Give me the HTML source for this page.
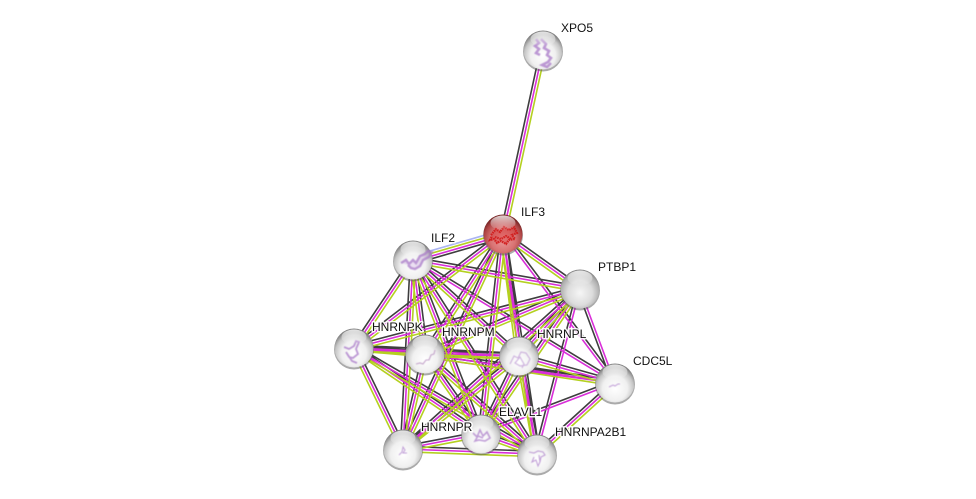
<!DOCTYPE html>
<html>
<head>
<meta charset="utf-8">
<style>
html,body{margin:0;padding:0;background:#fff;width:976px;height:499px;overflow:hidden}
svg{display:block}
text{font-family:"Liberation Sans",sans-serif;font-size:12px;fill:#111;paint-order:stroke;stroke:rgba(255,255,255,.9);stroke-width:3px;stroke-linejoin:round}
</style>
</head>
<body>
<svg width="976" height="499" viewBox="0 0 976 499" xmlns="http://www.w3.org/2000/svg">
<defs>
<radialGradient id="g" cx="50%" cy="64%" r="58%">
<stop offset="0" stop-color="#fff"/><stop offset=".55" stop-color="#f0f0f0"/><stop offset=".82" stop-color="#c6c6c6"/><stop offset="1" stop-color="#858585"/>
</radialGradient>
<radialGradient id="gp" cx="50%" cy="60%" r="58%">
<stop offset="0" stop-color="#f6f6f6"/><stop offset=".55" stop-color="#dcdcdc"/><stop offset=".85" stop-color="#b0b0b0"/><stop offset="1" stop-color="#858585"/>
</radialGradient>
<radialGradient id="r" cx="50%" cy="64%" r="58%">
<stop offset="0" stop-color="#ec9c9c"/><stop offset=".55" stop-color="#d87272"/><stop offset=".85" stop-color="#ae4444"/><stop offset="1" stop-color="#7a2828"/>
</radialGradient>
<linearGradient id="h" x1="0" y1="0" x2="0" y2="1">
<stop offset="0" stop-color="#fff" stop-opacity=".8"/><stop offset="1" stop-color="#fff" stop-opacity="0"/>
</linearGradient>
<filter id="b" x="-20%" y="-20%" width="140%" height="140%"><feGaussianBlur stdDeviation=".45"/></filter>
</defs>

<g fill="none" stroke-width="1.6">
<path stroke="#aab4f2" d="M411.9 256.2l90-26M403 446.5l78-15M581 291l-61 67"/>
<path stroke="#3e3e3e" d="M500.4 233.4l40-184M414.1 263.8l90-26M504.6 231.8l77 55M352.4 345.9l149-114M422.7 352.5l78-120M505.7 233.65l16 122M505.2 232.4l112 149M400.6 447.9l100-215M478.3 433.7l22-200M505.7 233.6l34 220M413.5 257.3l167 29M351.8 346.5l59-88M415.7 259.7l12 94M414.8 258l106 96M414.4 257.7l202 123M400.3 448.9l10-189M415.5 259l68 174M415.3 258.6l124 194M353.3 345.4l226-59M424 351.5l155-65M517 354.2l61-67M577.5 290l35 94M401.2 447l177-160M478.8 432.5l99-145M534.4 453.3l43-165M354.2 345.3l71 6M354.1 345.3l165 8M354.4 345.3l261 35M356.4 346.8l49 101M355.5 345.8l127 86M355.4 345.7l183 106M425.1 351.3l94 2M425.4 351.3l190 29M400.4 448.4l22-95M427.2 352.5l56 80M426.8 352l112 100M519.7 353.4l96 27M401.3 446.9l116-93M478.6 432.8l38-78M521.7 355.5l18 98M480 431.5l134-51M535.2 452l78-71M402.5 446.4l78-15M403.1 446.3l134 5M481.9 431.5l56 20"/>
<path stroke="#d92ed9" d="M503 234l40-184M413.4 261.3l90-26M503 234l77 55M354 348l149-114M425 354l78-120M503 234l16 122M503 234l112 149M403 449l100-215M481 434l22-200M503 234l34 220M413 260l167 29M354 348l59-88M413 260l12 94M413 260l106 96M413 260l202 123M403 449l10-189M413 260l68 174M413 260l124 194M354 348l226-59M425 354l155-65M519 356l61-67M580 289l35 94M403 449l177-160M481 434l99-145M537 454l43-165M354 348l71 6M354 348l165 8M354 348l261 35M354 348l49 101M354 348l127 86M354 348l183 106M425 354l94 2M425 354l190 29M403 449l22-95M425 354l56 80M425 354l112 100M519 356l96 27M403 449l116-93M481 434l38-78M519 356l18 98M481 434l134-51M537 454l78-71M403 449l78-15M403 449l134 5M481 434l56 20"/>
<path stroke="#b4d020" d="M505.6 234.6l40-184M412.6 258.7l90-26M501.4 236.2l77 55M355.6 350.1l149-114M427.3 355.5l78-120M500.3 234.35l16 122M405.4 450.1l100-215M483.7 434.3l22-200M500.3 234.4l34 220M412.5 262.7l167 29M356.2 349.5l59-88M410.3 260.3l12 94M411.2 262l106 96M405.7 449.1l10-189M410.5 261l68 174M410.7 261.4l124 194M354.7 350.6l226-59M426 356.5l155-65M521 357.8l61-67M404.8 451l177-160M483.2 435.5l99-145M353.8 350.7l71 6M353.9 350.7l165 8M351.6 349.2l49 101M352.5 350.2l127 86M352.6 350.3l183 106M424.9 356.7l94 2M424.6 356.7l190 29M405.6 449.6l22-95M422.8 355.5l56 80M423.2 356l112 100M518.3 358.6l96 27M404.7 451.1l116-93M483.4 435.2l38-78M516.3 356.5l18 98M538.8 456l78-71M403.5 451.7l78-15M402.9 451.7l134 5M480.1 436.5l56 20"/>
</g>

<g>
<!-- XPO5 -->
<circle cx="543" cy="51.5" r="20" fill="#555" opacity=".5"/><circle cx="543" cy="50" r="19.5" fill="url(#g)"/>
<path filter="url(#b)" transform="translate(543 51)" d="M-7,-12l3,4-4,3 4,3-3,4 4,2M-2,-12l5,5-2,4 5,3-2,4 4,3-3,4-6,3 5,2 4-4" fill="none" stroke="#a878c8" stroke-width="2.6" opacity=".75"/>
<ellipse cx="543" cy="39" rx="12.5" ry="7.5" fill="url(#h)"/>
<!-- ILF3 -->
<circle cx="503" cy="235.5" r="20" fill="#555" opacity=".5"/><circle cx="503" cy="234" r="19.5" fill="url(#r)"/>
<path transform="translate(503 235)" d="M-12,0l5-6 4,3 4-5 5,3 5-3 3,6-5,2 3,4-6,1-3,4-5-3-4,2-3-4-4,1 2-4M-8,2l6,2 5-3 5,3" fill="#d01818" fill-opacity=".35" stroke="#d01818" stroke-width="2.2" stroke-dasharray="1.6 .7" opacity=".9"/>
<ellipse cx="503" cy="223" rx="12.5" ry="7.5" fill="url(#h)"/>
<!-- ILF2 -->
<circle cx="413" cy="261.5" r="20" fill="#555" opacity=".5"/><circle cx="413" cy="260" r="19.5" fill="url(#g)"/>
<path filter="url(#b)" transform="translate(413 261)" d="M-12,2l5-3 3,4 4-4 3,3 4-7 5,-2 3-3 4,1-3,5-6,3-3,6-5,3-4,-1-3-3" fill="#a878c8" fill-opacity=".3" stroke="#a878c8" stroke-width="2.4" opacity=".75"/>
<ellipse cx="413" cy="249" rx="12.5" ry="7.5" fill="url(#h)"/>
<!-- PTBP1 -->
<circle cx="580" cy="290.5" r="20" fill="#555" opacity=".5"/><circle cx="580" cy="289" r="19.5" fill="url(#gp)"/>
<ellipse cx="580" cy="278" rx="12.5" ry="7.5" fill="url(#h)"/>
<!-- HNRNPK -->
<circle cx="354" cy="349.5" r="20" fill="#555" opacity=".5"/><circle cx="354" cy="348" r="19.5" fill="url(#g)"/>
<path filter="url(#b)" transform="translate(354 349)" d="M-10,-2l5,2 5-3 2-5 3,1-3,7 2,5-5,4-4-1-3-5 6,9 5,2" fill="none" stroke="#a878c8" stroke-width="1.8" opacity=".75"/>
<ellipse cx="354" cy="337" rx="12.5" ry="7.5" fill="url(#h)"/>
<!-- HNRNPM -->
<circle cx="425" cy="355.5" r="20" fill="#555" opacity=".5"/><circle cx="425" cy="354" r="19.5" fill="url(#g)"/>
<path filter="url(#b)" transform="translate(425 355)" d="M-9,9l4,-1 3,1 3-4 3,0 2-5 3-1 1-4" fill="none" stroke="#b890c0" stroke-width="1.1" opacity=".8"/>
<ellipse cx="425" cy="343" rx="12.5" ry="7.5" fill="url(#h)"/>
<!-- HNRNPL -->
<circle cx="519" cy="357.5" r="20" fill="#555" opacity=".5"/><circle cx="519" cy="356" r="19.5" fill="url(#g)"/>
<path filter="url(#b)" transform="translate(519 357)" d="M-9,7l4-8 4,2 3-6 5,1 4,6-3,6-7,1-5-3 5-6 4,7-2,4" fill="none" stroke="#b890d0" stroke-width="1.2" opacity=".65"/>
<ellipse cx="519" cy="345" rx="12.5" ry="7.5" fill="url(#h)"/>
<!-- CDC5L -->
<circle cx="615" cy="384.5" r="20" fill="#555" opacity=".5"/><circle cx="615" cy="383" r="19.5" fill="url(#g)"/>
<path filter="url(#b)" transform="translate(615 384)" d="M-6,3l4-2 2,1 3-2 2,0" fill="none" stroke="#a878c8" stroke-width="1" opacity=".7"/>
<ellipse cx="615" cy="372" rx="12.5" ry="7.5" fill="url(#h)"/>
<!-- HNRNPR -->
<circle cx="403" cy="450.5" r="20" fill="#555" opacity=".5"/><circle cx="403" cy="449" r="19.5" fill="url(#g)"/>
<path filter="url(#b)" transform="translate(403 450)" d="M-4,5l3-3 1,-5 2,3-2,3 4,0" fill="none" stroke="#a878c8" stroke-width="1" opacity=".7"/>
<ellipse cx="403" cy="438" rx="12.5" ry="7.5" fill="url(#h)"/>
<!-- ELAVL1 -->
<circle cx="481" cy="435.5" r="20" fill="#555" opacity=".5"/><circle cx="481" cy="434" r="19.5" fill="url(#g)"/>
<path filter="url(#b)" transform="translate(481 435)" d="M-8,-2l4,4 3-7 3,6 4-4 3,6-5,3-6-1-4,1 3-5 5,2" fill="none" stroke="#a878c8" stroke-width="1.6" opacity=".7"/>
<ellipse cx="481" cy="423" rx="12.5" ry="7.5" fill="url(#h)"/>
<!-- HNRNPA2B1 -->
<circle cx="537" cy="455.5" r="20" fill="#555" opacity=".5"/><circle cx="537" cy="454" r="19.5" fill="url(#g)"/>
<path filter="url(#b)" transform="translate(537 455)" d="M-8,-3l5,1 4-2 5,1 2,3-4,2-1,5-2,4-2-6-4,2 2-5M2,0l1,7" fill="none" stroke="#a878c8" stroke-width="1.1" opacity=".7"/>
<ellipse cx="537" cy="443" rx="12.5" ry="7.5" fill="url(#h)"/>
</g>

<g>
<text x="561" y="32">XPO5</text>
<text x="521" y="216">ILF3</text>
<text x="431" y="242">ILF2</text>
<text x="598" y="271">PTBP1</text>
<text x="372" y="331">HNRNPK</text>
<text x="442" y="336">HNRNPM</text>
<text x="537" y="338">HNRNPL</text>
<text x="633" y="365">CDC5L</text>
<text x="421" y="431">HNRNPR</text>
<text x="499" y="416">ELAVL1</text>
<text x="555" y="436">HNRNPA2B1</text>
</g>
</svg>
</body>
</html>
